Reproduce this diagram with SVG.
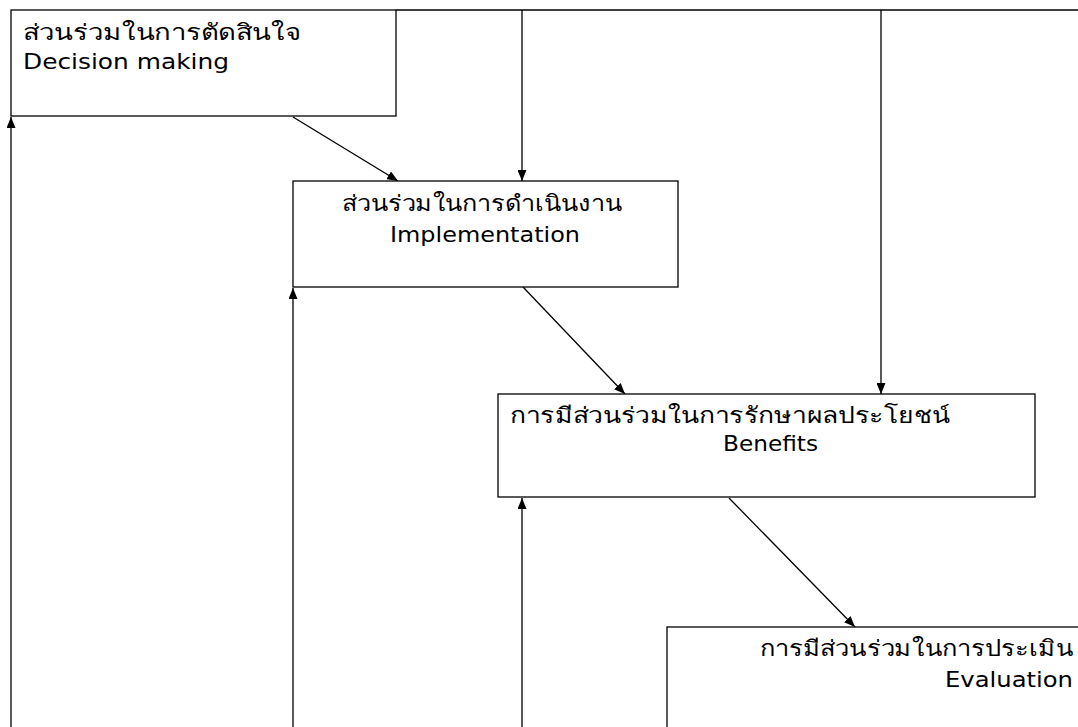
<svg xmlns="http://www.w3.org/2000/svg" width="1078" height="727" viewBox="0 0 1078 727">
<style>
.box{fill:#fff;stroke:#000;stroke-width:1.3}
.ln{fill:none;stroke:#000;stroke-width:1.3}
.arr{marker-end:url(#ah)}
text{font-family:"DejaVu Sans","Noto Sans","Liberation Sans",sans-serif;font-size:22px;fill:#000}
</style>
<defs>
<marker id="ah" viewBox="0 0 11 9" refX="11" refY="4.5" markerWidth="11" markerHeight="9" markerUnits="userSpaceOnUse" orient="auto">
<path d="M0,0 L11,4.5 L0,9 Z" fill="#000"/>
</marker>
</defs>
<rect width="1078" height="727" fill="#fff"/>
<g id="connectors">
<line class="ln" x1="396" y1="10" x2="1078" y2="10"/>
<line class="ln arr" x1="522" y1="10" x2="522" y2="181"/>
<line class="ln arr" x1="881" y1="10" x2="881" y2="394"/>
<line class="ln arr" x1="293" y1="117" x2="398" y2="181"/>
<line class="ln arr" x1="523" y1="287" x2="625" y2="394"/>
<line class="ln arr" x1="729" y1="498" x2="855" y2="627"/>
<line class="ln arr" x1="11" y1="727" x2="11" y2="117"/>
<line class="ln arr" x1="293" y1="727" x2="293" y2="288"/>
<line class="ln arr" x1="522" y1="727" x2="522" y2="498"/>
</g>
<g id="n1">
<rect class="box" x="11" y="10" width="385" height="106"/>
<text x="23" y="40" textLength="278" lengthAdjust="spacingAndGlyphs">ส่วนร่วมในการตัดสินใจ</text>
<text x="23" y="69" textLength="206" lengthAdjust="spacingAndGlyphs">Decision making</text>
</g>
<g id="n2">
<rect class="box" x="293" y="181" width="385" height="106"/>
<text x="342" y="211" textLength="280" lengthAdjust="spacingAndGlyphs">ส่วนร่วมในการดำเนินงาน</text>
<text x="390" y="242" textLength="190" lengthAdjust="spacingAndGlyphs">Implementation</text>
</g>
<g id="n3">
<rect class="box" x="498" y="394" width="537" height="103"/>
<text x="510" y="423" textLength="440" lengthAdjust="spacingAndGlyphs">การมีส่วนร่วมในการรักษาผลประโยชน์</text>
<text x="723" y="451" textLength="95" lengthAdjust="spacingAndGlyphs">Benefits</text>
</g>
<g id="n4">
<rect class="box" x="667" y="627" width="420" height="110"/>
<text x="760" y="656" textLength="313" lengthAdjust="spacingAndGlyphs">การมีส่วนร่วมในการประเมิน</text>
<text x="945" y="687" textLength="128" lengthAdjust="spacingAndGlyphs">Evaluation</text>
</g>
</svg>
